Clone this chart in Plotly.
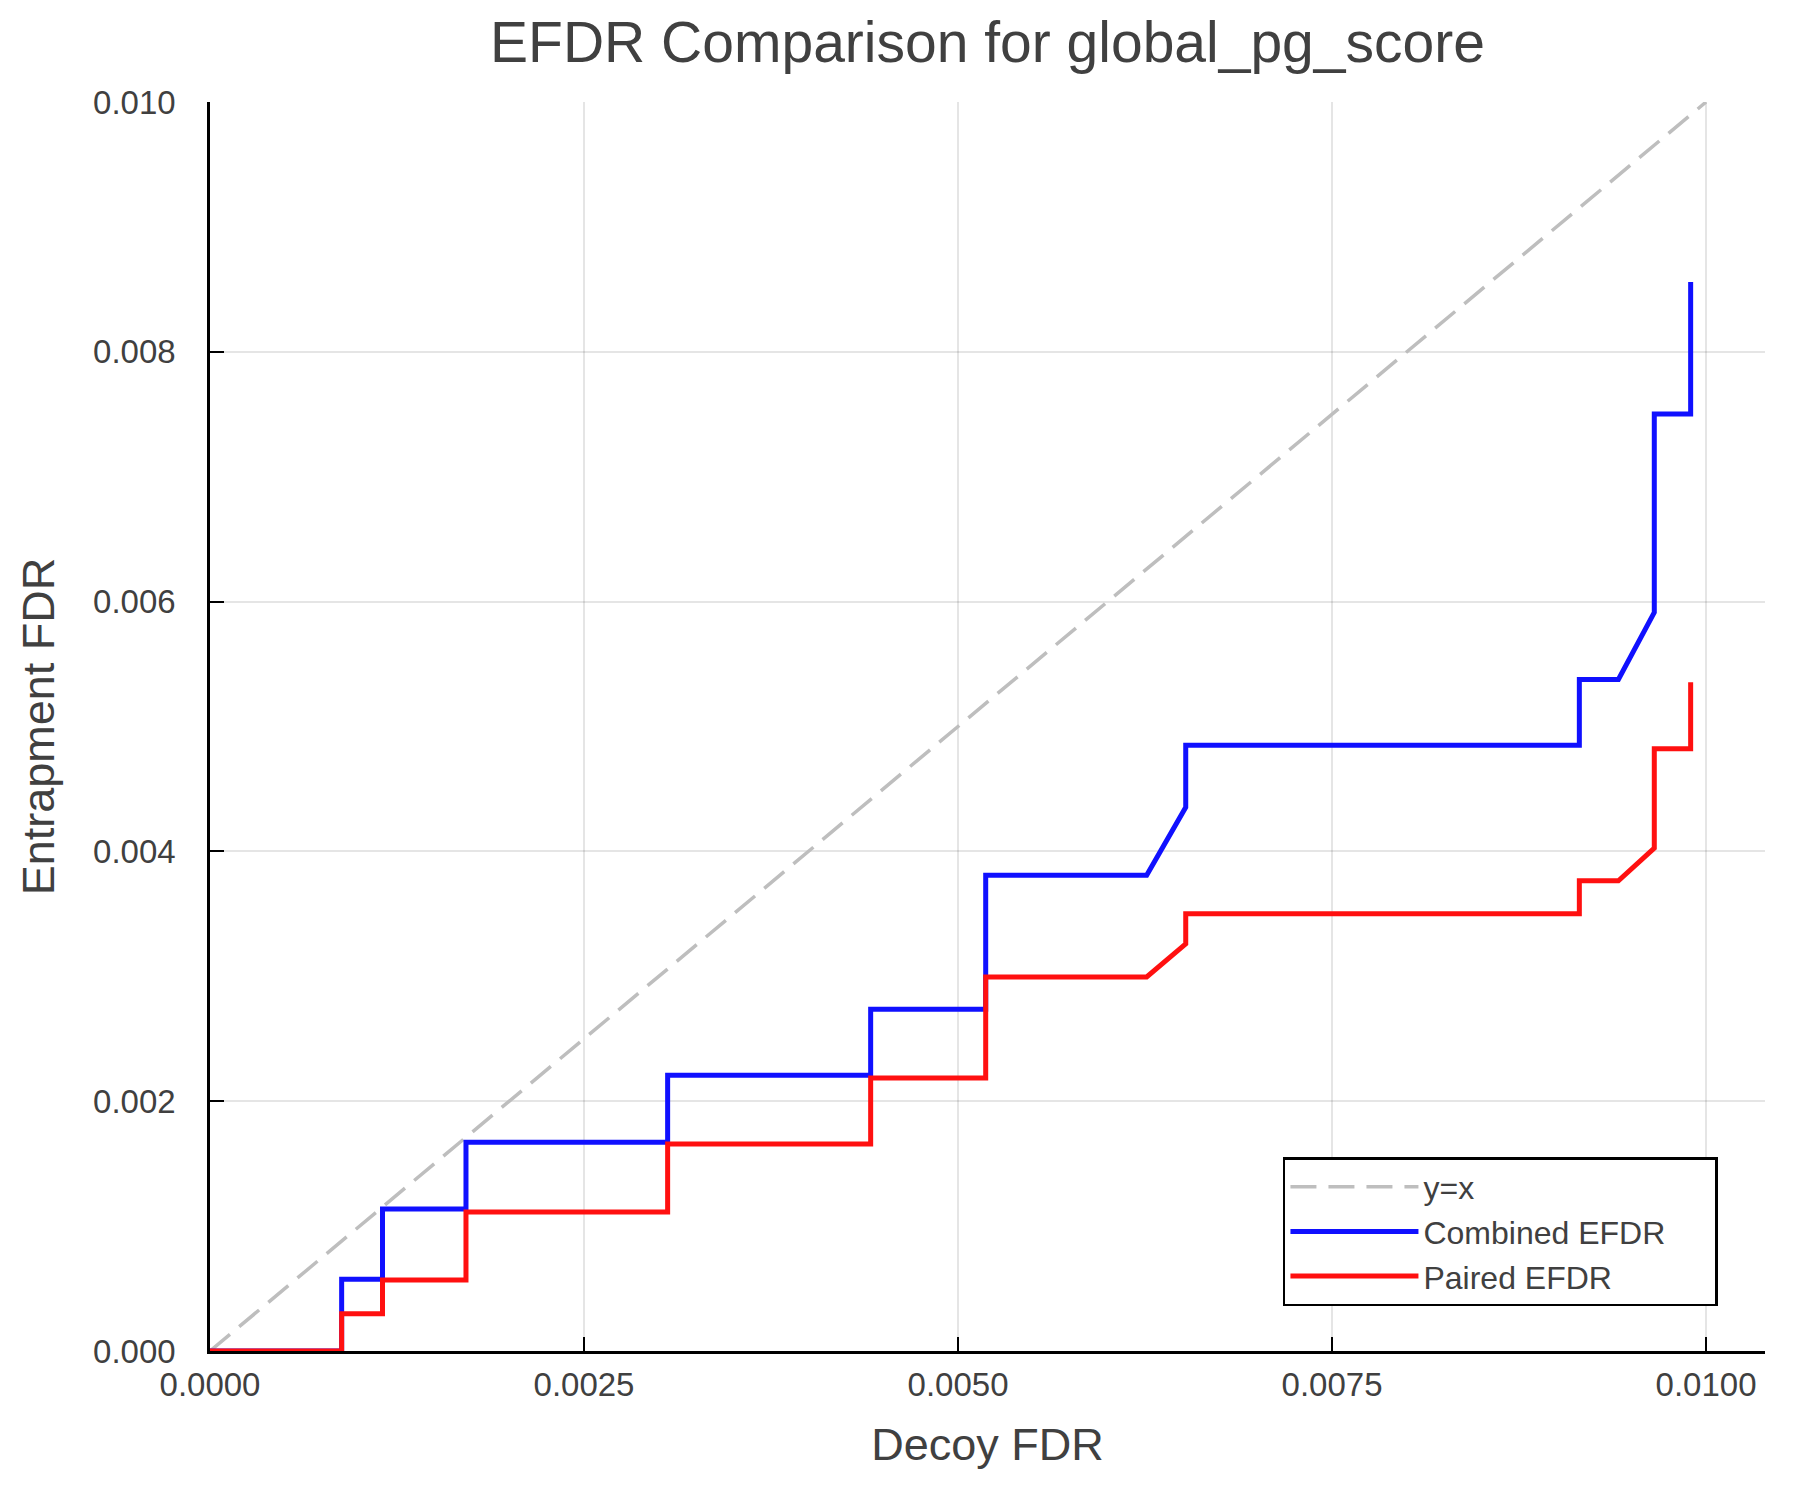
import plotly.graph_objects as go

# ---- data ----
decoy_fdr = [0, 0.00088, 0.00088, 0.001153, 0.001153, 0.001711, 0.001711,
             0.003059, 0.003059, 0.004416, 0.004416, 0.005185, 0.005185,
             0.006261, 0.006522, 0.006522, 0.009153, 0.009153, 0.009414,
             0.009654, 0.009654, 0.009897, 0.009897]
combined_efdr = [0, 0, 0.000574, 0.000574, 0.001137, 0.001137, 0.001671, 0.001671,
                 0.002207, 0.002207, 0.002736, 0.002736, 0.003810, 0.003810,
                 0.004353, 0.004850, 0.004850, 0.005376, 0.005376, 0.005913,
                 0.007503, 0.007503, 0.008558]
paired_efdr = [0, 0, 0.000299, 0.000299, 0.000568, 0.000568, 0.001113, 0.001113,
               0.001657, 0.001657, 0.002186, 0.002186, 0.002995, 0.002995,
               0.003259, 0.003500, 0.003500, 0.003765, 0.003765, 0.004026,
               0.004822, 0.004822, 0.005355]
diag = [0, 0.01]

x_tickvals = [0, 0.0025, 0.005, 0.0075, 0.01]
x_ticktext = ["0.0000", "0.0025", "0.0050", "0.0075", "0.0100"]
y_tickvals = [0, 0.002, 0.004, 0.006, 0.008, 0.010]
y_ticktext = ["0.000", "0.002", "0.004", "0.006", "0.008", "0.010"]

FONT = "Liberation Sans, Arial, sans-serif"
TXT = "#404040"
PAD = "\u00a0" * 5  # widens the legend box to match the reference

fig = go.Figure()
fig.add_trace(go.Scatter(x=diag, y=diag, mode="lines", name="y=x",
                         line=dict(color="#bebebe", width=3.5, dash="26px,12px")))
fig.add_trace(go.Scatter(x=decoy_fdr, y=combined_efdr, mode="lines", name="Combined EFDR" + PAD,
                         line=dict(color="#1010ff", width=5)))
fig.add_trace(go.Scatter(x=decoy_fdr, y=paired_efdr, mode="lines", name="Paired EFDR",
                         line=dict(color="#ff1010", width=5)))

axis_common = dict(
    showline=True, linecolor="black", linewidth=2.5, mirror=False,
    ticks="inside", ticklen=14, tickwidth=2, tickcolor="black",
    showgrid=True, gridcolor="rgba(0,0,0,0.1)", gridwidth=1.5,
    zeroline=False, tickfont=dict(size=33, color=TXT, family=FONT),
    automargin=False,
)

fig.update_layout(
    width=1800, height=1500, autosize=False,
    margin=dict(l=202, r=43, t=94, b=157),
    paper_bgcolor="white", plot_bgcolor="white",
    font=dict(family=FONT, color=TXT),
    title=dict(text="EFDR Comparison for global_pg_score", x=0.5, xref="paper",
               y=1 - 34 / 1500, yref="container", yanchor="middle", xanchor="center",
               font=dict(size=57, color=TXT, family=FONT)),
    xaxis=dict(range=[0, 0.010394], tickvals=x_tickvals, ticktext=x_ticktext,
               ticklabelstandoff=3,
               title=dict(text="Decoy FDR", font=dict(size=45, color=TXT, family=FONT), standoff=27),
               **axis_common),
    yaxis=dict(range=[0, 0.010], tickvals=y_tickvals, ticktext=y_ticktext,
               ticklabelstandoff=25,
               title=dict(text="Entrapment FDR", font=dict(size=45, color=TXT, family=FONT), standoff=25),
               **axis_common),
    legend=dict(x=0.69, y=0.1553, xanchor="left", yanchor="top",
                bgcolor="white", bordercolor="black", borderwidth=2.5,
                font=dict(size=32, color=TXT, family=FONT),
                itemwidth=128, tracegroupgap=0),
    showlegend=True,
)

fig.write_html("out.html")
